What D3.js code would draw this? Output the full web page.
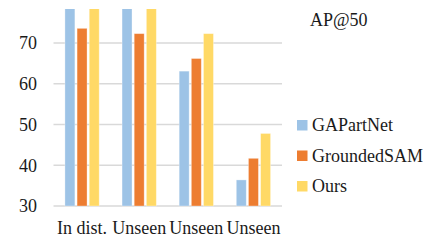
<!DOCTYPE html>
<html>
<head>
<meta charset="utf-8">
<script src="https://cdn.jsdelivr.net/npm/d3@7"></script>
<style>
  body { margin: 0; background: #fff; }
  svg text { font-family: "Liberation Serif", "DejaVu Serif", "Noto Serif", Times, serif; }
</style>
</head>
<body>
<div id="chart"></div>
<script>
var categories = ['In dist.', 'Unseen', 'Unseen', 'Unseen'];
var seriesNames = ['GAPartNet', 'GroundedSAM', 'Ours'];
var gapartnet   = [80.5, 80.5, 63.1, 36.4];
var groundedsam = [73.6, 72.3, 66.2, 41.7];
var ours        = [80.5, 80.5, 72.3, 47.8];
var yTicks = [30, 40, 50, 60, 70];
var colors = ['#9DC3E6', '#ED7D31', '#FFD966'];

var width = 436, height = 240;
var margin = {top: 9, left: 53.5, right: 154, bottom: 34};

var svg = d3.select('#chart').append('svg')
    .attr('width', width)
    .attr('height', height)
    .attr('font-size', 18);

var x0 = d3.scaleBand()
    .domain(d3.range(categories.length))
    .range([margin.left, width - margin.right])
    .paddingInner(0.4)
    .paddingOuter(0.2);

var x1 = d3.scaleBand()
    .domain(d3.range(seriesNames.length))
    .range([0, x0.bandwidth()])
    .paddingInner(0.18);

var y = d3.scaleLinear().domain([30, 78.35]).range([height - margin.bottom, margin.top]);

// grid lines
svg.append('g').selectAll('line').data(yTicks).enter().append('line')
    .attr('x1', margin.left).attr('x2', width - margin.right)
    .attr('y1', d => y(d)).attr('y2', d => y(d))
    .attr('stroke', '#d9d9d9')
    .attr('stroke-width', 1.5);

svg.append('g').selectAll('text').data(yTicks).enter().append('text')
    .attr('x', 37)
    .attr('y', d => y(d))
    .attr('dy', '0.35em')
    .attr('text-anchor', 'end')
    .attr('fill', '#1a1a1a')
    .text(d => d);

svg.append('clipPath').attr('id', 'clip')
    .append('rect')
    .attr('x', 0).attr('y', margin.top)
    .attr('width', width).attr('height', height);

var allSeries = [gapartnet, groundedsam, ours];

var groups = svg.append('g').attr('clip-path', 'url(#clip)')
    .selectAll('g').data(categories).enter().append('g')
    .attr('transform', (d, i) => 'translate(' + x0(i) + ',0)');

groups.selectAll('rect')
    .data((d, i) => allSeries.map((s, k) => ({k: k, v: s[i]})))
    .enter().append('rect')
    .attr('x', d => x1(d.k))
    .attr('width', x1.bandwidth())
    .attr('y', d => y(d.v))
    .attr('height', d => y(30) - y(d.v))
    .attr('fill', d => colors[d.k])
    .attr('stroke', '#fff')
    .attr('stroke-opacity', 0.4)
    .attr('stroke-width', 0.8);

// category labels
svg.append('g').selectAll('text').data(categories).enter().append('text')
    .attr('x', (d, i) => x0(i) + x0.bandwidth() / 2)
    .attr('y', 234)
    .attr('text-anchor', 'middle')
    .attr('fill', '#1a1a1a')
    .text(d => d);

// title
svg.append('text')
    .attr('x', 310).attr('y', 26)
    .attr('fill', '#1a1a1a')
    .text('AP@50');

// legend
var legend = svg.append('g').selectAll('g').data(seriesNames).enter().append('g')
    .attr('transform', (d, i) => 'translate(297,' + (125 + i * 30.5) + ')');

legend.append('rect')
    .attr('x', 0).attr('y', -5)
    .attr('width', 10.5).attr('height', 10.5)
    .attr('fill', (d, i) => colors[i]);

legend.append('text')
    .attr('x', 15).attr('y', 0)
    .attr('dy', '0.35em')
    .attr('fill', '#1a1a1a')
    .text(d => d);
</script>
</body>
</html>
